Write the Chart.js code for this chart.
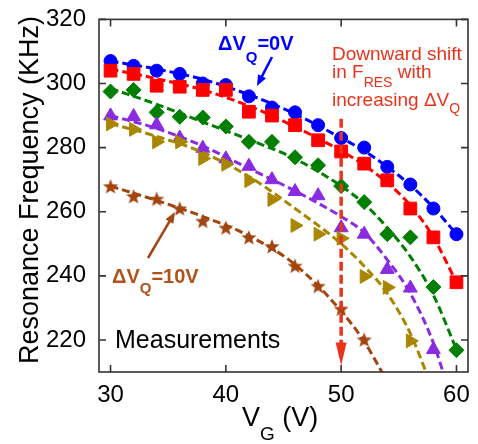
<!DOCTYPE html>
<html>
<head>
<meta charset="utf-8">
<script src="https://cdn.jsdelivr.net/npm/chart.js@4.4.1/dist/chart.umd.min.js"></script>
<style>
  body { margin: 0; background: #fff; }
  #wrap { width: 478px; height: 444px; }
</style>
</head>
<body>
<div id="wrap"><canvas id="fresChart"></canvas></div>
<script>
// gate voltage sweep (V) and measured resonance frequency (KHz) per dVq step
const vg = [30, 32, 34, 36, 38, 40, 42, 44, 46, 48, 50, 52, 54, 56, 58, 60];
const fres0 = [307, 305.5, 304, 303, 300, 299.5, 296, 292.5, 291, 287, 283, 280, 274, 268.5, 261, 253];
const fres2 = [304, 303, 299.3, 299, 298, 298, 291.2, 290, 287, 282.3, 278.8, 275, 269.8, 261, 252, 238];
const fres4 = [297.5, 298, 291, 289.6, 289.4, 286.6, 281.8, 281.8, 277, 274.5, 268, 263, 253, 252, 236.5, 216.8];
const fres6 = [289.9, 289.7, 287.1, 283, 279.8, 276.5, 274.2, 270, 266.3, 265, 255, 253, 242, 236.2, 217, null];
const fres8 = [287.4, 285.7, 281.8, 281.8, 276.6, 274.8, 269.7, 263.8, 255.7, 253, 251.7, 239.8, 236.4, 219.7, null, null];
const fres10 = [267.7, 264.6, 263.8, 260.8, 256.9, 254.8, 251.8, 249, 242.9, 236.6, 229.5, 219.9, null, null, null, null];

// dashed fit curves
const fitVg = [30, 34, 38, 42, 46, 50, 52, 54, 56, 58, 60];
const fit0 = [307, 304.5, 301.3, 296.5, 290.5, 283, 279, 274, 268.3, 261.3, 253];
const fit2 = [304.5, 301.5, 298, 293, 286.5, 279, 274.5, 269, 262, 252, 238];
const fit4 = [298.5, 293.5, 288, 282.5, 276.5, 268, 262.5, 255, 246, 234, 217];
const fit6 = [290, 286, 280.5, 273.5, 266.5, 258.5, 253.5, 245, 234.5, 219, 196];
const fit8 = [287.5, 283.5, 278.5, 271, 261, 250, 243, 234.5, 222, 204, null];
const fit10 = [268, 263.5, 258.5, 252.5, 243.5, 229, 219.5, 207, null, null, null];

const xTicks = [30, 40, 50, 60];
const yTicks = [220, 240, 260, 280, 300, 320];

// red "downward shift" arrow at this gate voltage, from/to these frequencies
const shiftVg = 50;
const shiftFrom = 289;
const shiftTo = 212;

const FONT = "'Liberation Sans', Arial, sans-serif";

// filled five point star, used as point style for the 10V series
function makeStar(color, outer, inner) {
  const size = Math.ceil(outer * 2 + 2);
  const c = document.createElement('canvas');
  c.width = size;
  c.height = size;
  const g = c.getContext('2d');
  g.translate(size / 2, size / 2);
  g.beginPath();
  for (let i = 0; i < 10; i++) {
    const r = i % 2 === 0 ? outer : inner;
    const a = -Math.PI / 2 + i * Math.PI / 5;
    g.lineTo(Math.cos(a) * r, Math.sin(a) * r);
  }
  g.closePath();
  g.fillStyle = color;
  g.fill();
  return c;
}

const series = [
  { data: fres0, fit: fit0, color: '#0000ff', style: 'circle', radius: 6.5 },
  { data: fres2, fit: fit2, color: '#ff0000', style: 'rect', radius: 9 },
  { data: fres4, fit: fit4, color: '#007f00', style: 'rectRot', radius: 7.5 },
  { data: fres6, fit: fit6, color: '#8a2be2', style: 'triangle', radius: 8 },
  { data: fres8, fit: fit8, color: '#a88600', style: 'triangle', radius: 8, rotation: 90 },
  { data: fres10, fit: fit10, color: '#a3450f', style: null, radius: 8 }
];

const datasets = [];
series.forEach((s, i) => {
  datasets.push({
    data: s.fit.map((f, k) => ({ x: fitVg[k], y: f })).filter(p => p.y !== null),
    borderColor: s.color,
    borderWidth: 3,
    borderDash: [8, 4],
    pointRadius: 0,
    cubicInterpolationMode: 'monotone',
    order: 100 - i * 2
  });
  datasets.push({
    data: s.data.map((f, k) => ({ x: vg[k], y: f })).filter(p => p.y !== null),
    showLine: false,
    backgroundColor: s.color,
    borderColor: s.color,
    borderWidth: 1,
    pointStyle: s.style || makeStar(s.color, 8, 3.4),
    pointRadius: s.radius,
    pointRotation: s.rotation || 0,
    order: 99 - i * 2
  });
});

// text runs with subscripts: [text, font, dy]
function drawRuns(ctx, x, y, runs) {
  runs.forEach(([text, font, dy]) => {
    ctx.font = font;
    ctx.fillText(text, x, y + (dy || 0));
    x += ctx.measureText(text).width;
  });
}

function arrow(ctx, x1, y1, x2, y2, color, width, headLen, headHalf) {
  const a = Math.atan2(y2 - y1, x2 - x1);
  ctx.strokeStyle = color;
  ctx.fillStyle = color;
  ctx.lineWidth = width;
  ctx.beginPath();
  ctx.moveTo(x1, y1);
  ctx.lineTo(x2 - Math.cos(a) * headLen * 0.8, y2 - Math.sin(a) * headLen * 0.8);
  ctx.stroke();
  ctx.beginPath();
  ctx.moveTo(x2, y2);
  ctx.lineTo(x2 - Math.cos(a) * headLen - Math.sin(a) * headHalf, y2 - Math.sin(a) * headLen + Math.cos(a) * headHalf);
  ctx.lineTo(x2 - Math.cos(a) * headLen + Math.sin(a) * headHalf, y2 - Math.sin(a) * headLen - Math.cos(a) * headHalf);
  ctx.closePath();
  ctx.fill();
}

const framePlugin = {
  id: 'frame',
  afterDatasetsDraw(chart) {
    const { ctx, scales: { x, y } } = chart;
    // vertical dashed shift arrow
    const px = x.getPixelForValue(shiftVg);
    const top = y.getPixelForValue(shiftFrom);
    const tip = y.getPixelForValue(shiftTo);
    ctx.save();
    ctx.strokeStyle = '#e8341c';
    ctx.fillStyle = '#e8341c';
    ctx.lineWidth = 3.5;
    ctx.setLineDash([9, 4]);
    ctx.beginPath();
    ctx.moveTo(px, top);
    ctx.lineTo(px, tip - 18);
    ctx.stroke();
    ctx.setLineDash([]);
    ctx.beginPath();
    ctx.moveTo(px, tip);
    ctx.lineTo(px - 5.5, tip - 23);
    ctx.lineTo(px + 5.5, tip - 23);
    ctx.closePath();
    ctx.fill();
    ctx.restore();
  },
  afterDraw(chart) {
    const { ctx, chartArea: a, scales: { x, y } } = chart;
    ctx.save();

    // box with inward ticks on all sides
    ctx.strokeStyle = '#333';
    ctx.lineWidth = 1.6;
    ctx.strokeRect(a.left, a.top, a.right - a.left, a.bottom - a.top);
    ctx.beginPath();
    xTicks.forEach(v => {
      const p = x.getPixelForValue(v);
      ctx.moveTo(p, a.bottom); ctx.lineTo(p, a.bottom - 7);
      ctx.moveTo(p, a.top); ctx.lineTo(p, a.top + 7);
    });
    yTicks.forEach(v => {
      const p = y.getPixelForValue(v);
      ctx.moveTo(a.left, p); ctx.lineTo(a.left + 7, p);
      ctx.moveTo(a.right, p); ctx.lineTo(a.right - 7, p);
    });
    ctx.stroke();

    // axis titles
    ctx.fillStyle = '#000';
    ctx.textBaseline = 'alphabetic';
    ctx.save();
    ctx.translate(38, 190);
    ctx.rotate(-Math.PI / 2);
    ctx.textAlign = 'center';
    ctx.font = '27px ' + FONT;
    ctx.fillText('Resonance Frequency (KHz)', 0, 0);
    ctx.restore();
    ctx.textAlign = 'left';
    drawRuns(ctx, 242, 426, [['V', '27px ' + FONT], ['G', '19px ' + FONT, 14], [' (V)', '27px ' + FONT]]);

    // annotations
    ctx.fillStyle = '#0000ff';
    drawRuns(ctx, 218, 50, [['ΔV', 'bold 20px ' + FONT], ['Q', 'bold 15px ' + FONT, 12], ['=0V', 'bold 20px ' + FONT]]);
    arrow(ctx, 272, 57, 257, 86, '#0000ff', 2.5, 11, 4.5);

    ctx.fillStyle = '#e8341c';
    drawRuns(ctx, 332, 60, [['Downward shift', '19px ' + FONT]]);
    drawRuns(ctx, 332, 78, [['in F', '19px ' + FONT], ['RES', '14px ' + FONT, 9], [' with', '19px ' + FONT]]);
    drawRuns(ctx, 332, 106, [['increasing ΔV', '19px ' + FONT], ['Q', '14px ' + FONT, 7]]);

    ctx.fillStyle = '#b0521a';
    drawRuns(ctx, 112, 283, [['ΔV', 'bold 20px ' + FONT], ['Q', 'bold 15px ' + FONT, 10], ['=10V', 'bold 20px ' + FONT]]);
    arrow(ctx, 148, 258, 175, 212, '#a3450f', 2.5, 11, 4.5);

    ctx.fillStyle = '#000';
    drawRuns(ctx, 115, 348, [['Measurements', '25px ' + FONT]]);
    ctx.restore();
  }
};

new Chart(document.getElementById('fresChart'), {
  type: 'line',
  data: { datasets: datasets },
  options: {
    responsive: true,
    maintainAspectRatio: false,
    animation: false,
    layout: { padding: { top: 9, right: 10, left: 0, bottom: 0 } },
    plugins: {
      legend: { display: false },
      tooltip: { enabled: false }
    },
    scales: {
      x: {
        type: 'linear',
        min: 29,
        max: 61,
        grid: { display: false },
        border: { display: false },
        afterBuildTicks: scale => { scale.ticks = xTicks.map(v => ({ value: v })); },
        afterFit: scale => { scale.height = 72; },
        ticks: { color: '#000', padding: 1, maxRotation: 0, font: { size: 24, family: FONT } }
      },
      y: {
        type: 'linear',
        min: 210,
        max: 320,
        grid: { display: false },
        border: { display: false },
        afterBuildTicks: scale => { scale.ticks = yTicks.map(v => ({ value: v })); },
        afterFit: scale => { scale.width = 99; },
        ticks: { color: '#000', padding: 5, font: { size: 24, family: FONT } }
      }
    }
  },
  plugins: [framePlugin]
});
</script>
</body>
</html>
